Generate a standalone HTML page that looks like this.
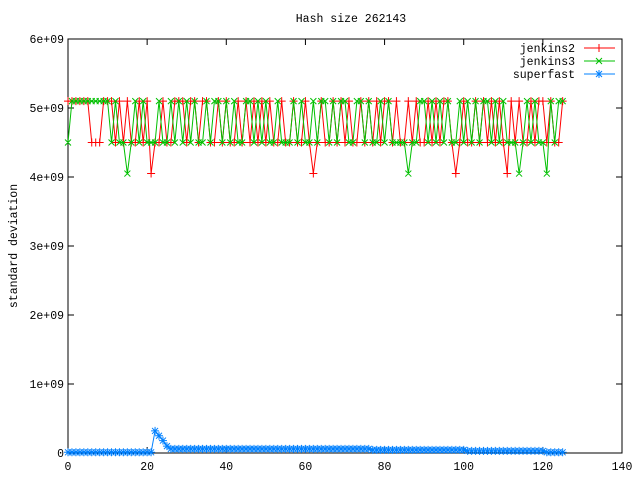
<!DOCTYPE html>
<html><head><meta charset="utf-8"><style>
body{margin:0;background:#fff;}
svg text{font-family:"Liberation Mono",monospace;font-size:11.5px;fill:#000;}
</style></head><body>
<svg id="chart" width="640" height="480" xmlns="http://www.w3.org/2000/svg">
<rect width="640" height="480" fill="#fff"/>
<text x="351" y="22" text-anchor="middle">Hash size 262143</text>
<text transform="translate(17,246) rotate(-90)" text-anchor="middle">standard deviation</text>
<g id="axes"></g>
<g id="series"></g>
<g id="legend"></g>
</svg>
<script>
const xTicks=[0,20,40,60,80,100,120,140];
const yTicks=[0,1,2,3,4,5,6];
const yTickLabels=["0","1e+09","2e+09","3e+09","4e+09","5e+09","6e+09"];
const jenkins2=[5.1,5.1,5.1,5.1,5.1,5.1,4.5,4.5,4.5,5.1,
5.1,5.1,4.5,5.1,4.5,5.1,4.5,4.5,5.1,4.5,
5.1,4.05,4.5,4.5,5.1,4.5,4.5,5.1,5.1,5.1,
4.5,5.1,5.1,4.5,5.1,5.1,4.5,4.5,5.1,4.5,
5.1,4.5,4.5,5.1,4.5,5.1,4.5,5.1,4.5,5.1,
4.5,5.1,4.5,4.5,5.1,4.5,4.5,5.1,4.5,4.5,
5.1,4.5,4.05,4.5,5.1,4.5,4.5,5.1,4.5,5.1,
4.5,5.1,4.5,4.5,5.1,4.5,5.1,4.5,5.1,4.5,
5.1,5.1,4.5,5.1,4.5,4.5,5.1,4.5,5.1,4.5,
4.5,5.1,4.5,5.1,4.5,5.1,5.1,4.5,4.05,4.5,
5.1,4.5,4.5,5.1,4.5,5.1,4.5,5.1,4.5,5.1,
4.5,4.05,5.1,4.5,5.1,4.5,4.5,5.1,4.5,5.1,
5.1,4.5,5.1,4.5,4.5,5.1];
const jenkins3=[4.5,5.1,5.1,5.1,5.1,5.1,5.1,5.1,5.1,5.1,
5.1,4.5,5.1,4.5,4.5,4.05,4.5,5.1,4.5,5.1,
4.5,4.5,4.5,5.1,4.5,4.5,5.1,4.5,5.1,4.5,
5.1,4.5,5.1,4.5,4.5,5.1,4.5,5.1,5.1,4.5,
5.1,4.5,5.1,4.5,4.5,5.1,5.1,4.5,5.1,4.5,
5.1,4.5,4.5,5.1,4.5,4.5,4.5,5.1,4.5,5.1,
4.5,4.5,5.1,4.5,5.1,5.1,4.5,5.1,4.5,5.1,
5.1,4.5,4.5,5.1,5.1,4.5,5.1,4.5,4.5,5.1,
4.5,5.1,4.5,4.5,4.5,4.5,4.05,4.5,4.5,5.1,
5.1,4.5,5.1,4.5,5.1,4.5,5.1,4.5,4.5,5.1,
4.5,5.1,4.5,5.1,4.5,5.1,5.1,4.5,5.1,4.5,
5.1,4.5,4.5,4.5,4.05,4.5,5.1,4.5,5.1,4.5,
4.5,4.05,5.1,4.5,5.1,5.1];
const superfast=[0.01,0.01,0.01,0.01,0.01,0.01,0.01,0.01,0.01,0.01,0.01,0.01,0.01,0.01,0.01,0.01,0.01,0.01,0.01,0.01,0.01,0.01,
0.32,0.25,0.18,0.1,0.06,0.06,0.06,0.06,0.06,0.06,0.06,0.06,0.06,0.06,0.06,0.06,0.06,0.06,0.06,0.06,0.06,0.06,0.06,0.06,0.06,0.06,0.06,0.06,
0.06,0.06,0.06,0.06,0.06,0.06,0.06,0.06,0.06,0.06,0.06,0.06,0.06,0.06,0.06,0.06,0.06,0.06,0.06,0.06,0.06,0.06,0.06,0.06,0.06,0.06,0.06,
0.045,0.045,0.045,0.045,0.045,0.045,0.045,0.045,0.045,0.045,0.045,0.045,0.045,0.045,0.045,0.045,0.045,0.045,0.045,0.045,0.045,0.045,0.045,0.045,
0.03,0.03,0.03,0.03,0.03,0.03,0.03,0.03,0.03,0.03,0.03,0.03,0.03,0.03,0.03,0.03,0.03,0.03,0.03,0.03,
0.01,0.01,0.01,0.01,0.01];
const NS="http://www.w3.org/2000/svg";
const L=68,R=622,T=39,B=453;
const xs=v=>L+(v-0)/140*(R-L);
const ys=v=>B-v/6*(B-T);
function mk(tag,attrs,parent){const e=document.createElementNS(NS,tag);for(const k in attrs)e.setAttribute(k,attrs[k]);parent.appendChild(e);return e;}
const axes=document.getElementById('axes');
const frame=mk('rect',{x:L,y:T,width:R-L,height:B-T,fill:'none',stroke:'#000','stroke-width':1},axes);


yTicks.forEach((t,i)=>{const y=ys(t);
const a=mk('path',{d:`M${L} ${y}h6M${R} ${y}h-6`,stroke:'#000'},axes);


const tx=mk('text',{x:L-4,y:y+4,'text-anchor':'end'},axes);tx.textContent=yTickLabels[i];

});
xTicks.forEach(t=>{const x=xs(t);
const a=mk('path',{d:`M${x} ${B}v-6M${x} ${T}v6`,stroke:'#000'},axes);


const tx=mk('text',{x:x,y:B+17,'text-anchor':'middle'},axes);tx.textContent=String(t);

});
function marker(type,x,y){
if(type==='plus')return `M${x-4} ${y}h8M${x} ${y-4}v8`;
if(type==='cross')return `M${x-3} ${y-3}l6 6M${x-3} ${y+3}l6 -6`;
return `M${x-4} ${y}h8M${x} ${y-4}v8M${x-3} ${y-3}l6 6M${x-3} ${y+3}l6 -6`;}
const series=document.getElementById('series');
const defs=[["jenkins2",jenkins2,"#ff0000","plus"],["jenkins3",jenkins3,"#00c000","cross"],["superfast",superfast,"#0080ff","star"]];
defs.forEach(([name,data,col,m])=>{
const g=mk('g',{},series);


const pts=data.map((v,i)=>xs(i)+','+ys(v)).join(' ');
const line=mk('polyline',{points:pts,fill:'none',stroke:col,'stroke-width':1},g);


let d='';data.forEach((v,i)=>{d+=marker(m,xs(i),ys(v));});
const mp=mk('path',{d:d,stroke:col,'stroke-width':1,fill:'none'},g);

});
const legend=document.getElementById('legend');
defs.forEach(([name,data,col,m],i)=>{const y=48+i*13;
const g=mk('g',{},legend);


const tx=mk('text',{x:575,y:y+4,'text-anchor':'end'},g);tx.textContent=name;
mk('path',{d:`M584 ${y}h31`+marker(m,599,y),stroke:col,fill:'none'},g);});
</script>
</body></html>
